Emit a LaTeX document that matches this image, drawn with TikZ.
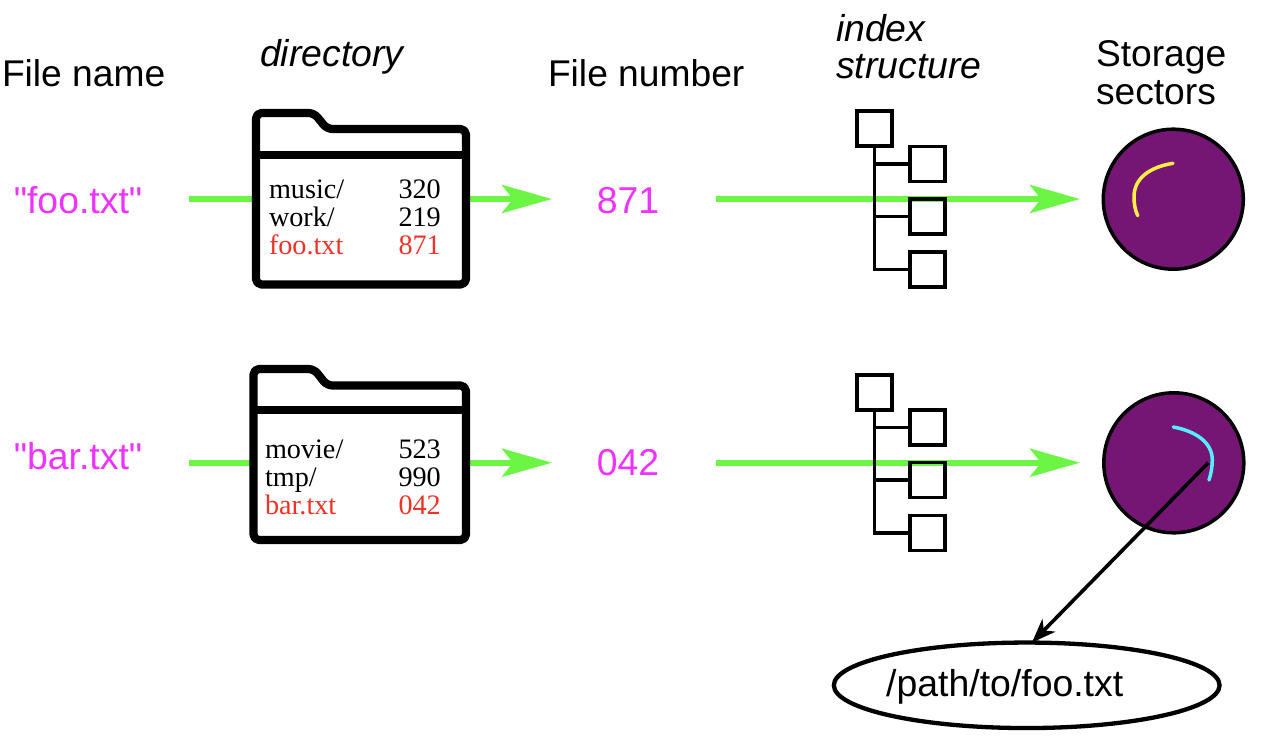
\documentclass[tikz,border=0pt]{standalone}
\usepackage{fontspec}
\setmainfont{Liberation Sans}
\newfontfamily\plainsans{Liberation Sans}
\newfontfamily\serifface{Liberation Serif}
\usetikzlibrary{arrows.meta,shapes.geometric}
\definecolor{flowgreen}{HTML}{6CF545}
\definecolor{namemagenta}{HTML}{EE33FF}
\definecolor{hitred}{HTML}{EE3326}
\definecolor{diskpurple}{HTML}{751675}
\definecolor{arcyellow}{HTML}{FFEE44}
\definecolor{arccyan}{HTML}{55EEFF}
\tikzset{
  x=1pt,y=-1pt,
  every node/.style={inner sep=0pt,outer sep=0pt},
  label37/.style={anchor=base west,font=\fontsize{37.2}{37.2}\selectfont},
  labelit/.style={label37,font=\fontsize{37.4}{37.4}\selectfont\itshape},
  magtext/.style={anchor=base,text=namemagenta,font=\plainsans\fontsize{37.4}{37.4}\selectfont},
  rowtext/.style={anchor=base west,font=\serifface\fontsize{28.2}{28.2}\selectfont},
  hit/.style={text=hitred},
  flow/.style={draw=flowgreen,line width=5.8pt,-{Stealth[length=50pt,width=28pt,inset=11pt]}},
  folderline/.style={draw=black,fill=white,line width=8.2pt,rounded corners=5.5pt,line join=round},
  treebox/.style={draw=black,line width=3.5pt,minimum size=35pt},
  treeline/.style={draw=black,line width=3.5pt},
  disk/.style={circle,draw=black,fill=diskpurple,line width=3.5pt,minimum size=140pt},
  track/.style={line width=3.5pt,line cap=round},
  pathbubble/.style={ellipse,draw=black,line width=4.3pt,minimum width=385.7pt,minimum height=85.5pt,font=\fontsize{37.4}{37.4}\selectfont}
}
\begin{document}
\begin{tikzpicture}
\useasboundingbox (0,0) rectangle (1278,736);

% column headings
\node[label37] (hname) at (2,86.5) {File name};
\node[labelit] (hdir) at (260,66.5) {directory};
\node[label37] (hnum) at (548,86.5) {File number};
\node[labelit] (hidx1) at (836,41.5) {index};
\node[labelit] (hidx2) at (836,78.5) {structure};
\node[label37] (hsto1) at (1096,66.5) {Storage};
\node[label37] (hsto2) at (1096,104.5) {sectors};

% row labels
\node[magtext] (fname1) at (78,213) {"foo.txt"};
\node[magtext] (fname2) at (78,469) {"bar.txt"};
\node[magtext] (fnum1) at (628,213) {871};
\node[magtext] (fnum2) at (628,475) {042};

% flow endpoints
\coordinate (s1) at (189,199);
\coordinate (e1) at (552,199);
\coordinate (s2) at (189,462.7);
\coordinate (e2) at (552,462.7);
\coordinate (s3) at (716,199);
\coordinate (e3) at (1080,199);
\coordinate (s4) at (716,462.7);
\coordinate (e4) at (1080,462.7);
\draw[flow] (s1) -- (e1);
\draw[flow] (s2) -- (e2);
\draw[flow] (s3) -- (e3);
\draw[flow] (s4) -- (e4);

% folder 1
\path[folderline] (256,284.5) -- (256,113) -- (314,113) -- (327,129) -- (466,129) -- (466,284.5) -- cycle;
\draw[line width=8pt] (256,154.5) -- (466,154.5);
\node[rowtext] (d11) at (269,198.3) {music/};
\node[rowtext] (d12) at (269,226.3) {work/};
\node[rowtext,hit] (d13) at (269,254.3) {foo.txt};
\node[rowtext] (n11) at (398.5,198.3) {320};
\node[rowtext] (n12) at (398.5,226.3) {219};
\node[rowtext,hit] (n13) at (398.5,254.3) {871};

% folder 2
\path[folderline] (253.5,540) -- (253.5,369) -- (314,369) -- (327,385.5) -- (466,385.5) -- (466,540) -- cycle;
\draw[line width=8pt] (253.5,410) -- (466,410);
\node[rowtext] (d21) at (265,458) {movie/};
\node[rowtext] (d22) at (265,486) {tmp/};
\node[rowtext,hit] (d23) at (265,514.5) {bar.txt};
\node[rowtext] (n21) at (398.5,458) {523};
\node[rowtext] (n22) at (398.5,486) {990};
\node[rowtext,hit] (n23) at (398.5,514.5) {042};

% tree 1
\node[treebox] (r1) at (874.5,128.5) {};
\node[treebox] (a1) at (927.5,164) {};
\node[treebox] (a2) at (927.5,216.7) {};
\node[treebox] (a3) at (927.5,269.5) {};
\draw[treeline] (r1.south) |- (a1.west);
\draw[treeline] (r1.south) |- (a2.west);
\draw[treeline] (r1.south) |- (a3.west);

% tree 2
\node[treebox] (r2) at (874.5,392.5) {};
\node[treebox] (b1) at (927.5,427.5) {};
\node[treebox] (b2) at (927.5,480) {};
\node[treebox] (b3) at (927.5,533) {};
\draw[treeline] (r2.south) |- (b1.west);
\draw[treeline] (r2.south) |- (b2.west);
\draw[treeline] (r2.south) |- (b3.west);

% disks
\node[disk] (disk1) at (1173.3,199.2) {};
\node[disk] (disk2) at (1173.8,462.8) {};
\draw[track,arcyellow] (1173,163.3) .. controls (1150,167) and (1134,178) .. (1134,197) .. controls (1134,203) and (1135,210) .. (1137.7,215.7);
\draw[track,arccyan] (1173.3,427) .. controls (1195,431) and (1212.3,442) .. (1212.3,460) .. controls (1212.3,467) and (1211,474) .. (1209,480);

% pointer to path
\node[pathbubble] (pathnode) at (1026.7,685.3) {\hspace*{-44pt}\smash{\raisebox{-11pt}{/path/to/foo.txt}}};
\coordinate (ptr) at (1208.3,462.7);
\draw[line width=3.6pt,-{Stealth[length=24pt,width=18pt,inset=7pt]}] (ptr) -- (pathnode.83.5);
\end{tikzpicture}
\end{document}
